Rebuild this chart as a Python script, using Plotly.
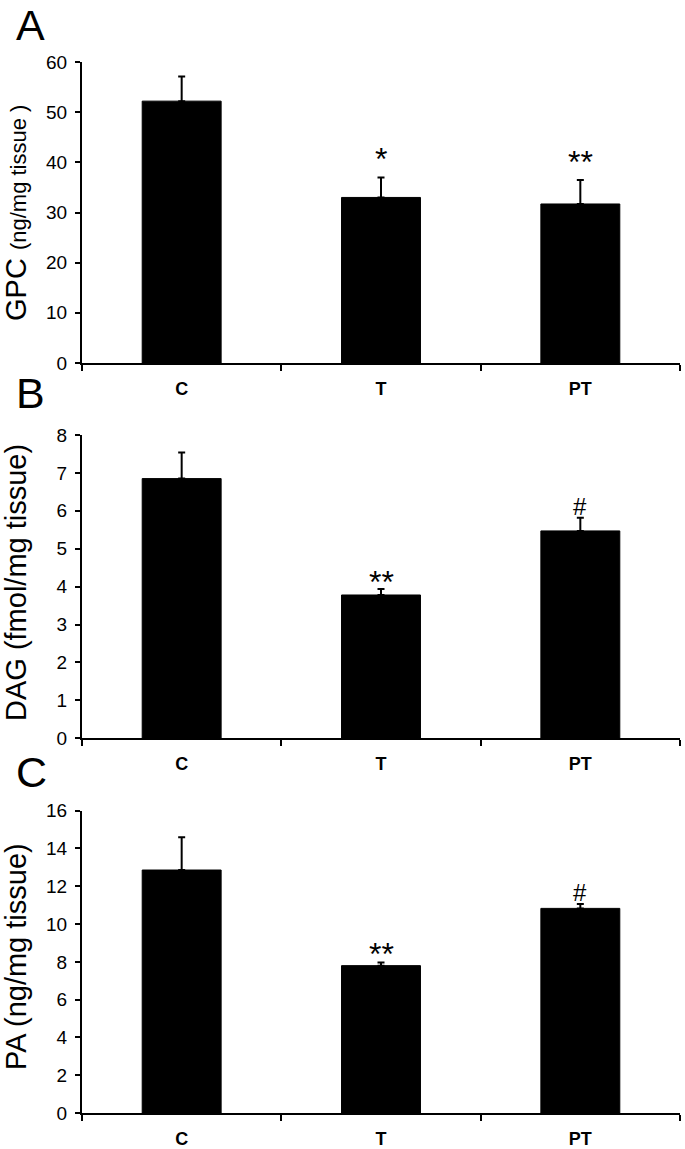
import plotly.graph_objects as go

# ---- data ----
categories = ["C", "T", "PT"]

gpc_mean = [52.2, 33.0, 31.7]
gpc_err = [4.9, 4.0, 4.8]
gpc_marks = ["", "*", "**"]

dag_mean = [6.85, 3.78, 5.47]
dag_err = [0.69, 0.16, 0.35]
dag_marks = ["", "**", "#"]

pa_mean = [12.86, 7.80, 10.83]
pa_err = [1.73, 0.17, 0.23]
pa_marks = ["", "**", "#"]

panel_letters = ["A", "B", "C"]
y_titles = [
    "GPC <span style='font-size:22px'>(ng/mg tissue )</span>",
    "DAG (fmol/mg tissue)",
    "PA (ng/mg tissue)",
]
y_ranges = [[0, 60], [0, 8], [0, 16]]
y_dticks = [10, 1, 2]

# ---- layout geometry (pixels) ----
W, H = 685, 1149
x_left, x_right = 82, 680
panels_px = [(62, 363), (435, 738.3), (810.7, 1113)]  # (top, bottom)
title_centers = [213, 583, 957]
letter_box_tops = [0, 368, 747]
mark_shift = [22, 11, 12]
FONT = "Liberation Sans, Arial, sans-serif"

fig = go.Figure()
series = [(gpc_mean, gpc_err, gpc_marks), (dag_mean, dag_err, dag_marks), (pa_mean, pa_err, pa_marks)]

annotations = []
for i, (means, errs, marks) in enumerate(series):
    suffix = "" if i == 0 else str(i + 1)
    fig.add_trace(go.Bar(
        x=categories, y=means,
        xaxis="x" + suffix, yaxis="y" + suffix,
        marker=dict(color="black", line=dict(color="black", width=1)),
        error_y=dict(type="data", array=errs, arrayminus=[0] * len(errs), symmetric=False,
                     color="black", thickness=2, width=3.5),
        showlegend=False,
    ))
    top, bottom = panels_px[i]
    dom = [1 - bottom / H, 1 - top / H]
    fig.update_layout(**{
        "xaxis" + suffix: dict(
            domain=[x_left / W, x_right / W], anchor="y" + suffix,
            showline=True, linecolor="black", linewidth=2,
            ticks="outside", tickson="boundaries", ticklen=6, tickwidth=2, tickcolor="black",
            tickfont=dict(family=FONT, size=18, color="black", weight="bold"),
            ticklabelstandoff=8, showgrid=False, zeroline=False, fixedrange=True,
            automargin=False,
        ),
        "yaxis" + suffix: dict(
            domain=dom, anchor="x" + suffix, range=y_ranges[i], dtick=y_dticks[i],
            showline=True, linecolor="black", linewidth=2,
            ticks="outside", ticklen=5, tickwidth=2, tickcolor="black",
            tickfont=dict(family=FONT, size=19, color="black"),
            ticklabelstandoff=4, showgrid=False, zeroline=False, fixedrange=True,
            automargin=False,
        ),
    })
    # significance marks above error bars
    for c, m, e, mk in zip(categories, means, errs, marks):
        if mk:
            is_star = "*" in mk
            annotations.append(dict(
                x=c, y=m + e, xref="x" + suffix, yref="y" + suffix,
                text=mk, showarrow=False, yanchor="middle",
                yshift=mark_shift[i] - (4 if is_star else 0),
                font=dict(family=FONT, size=32 if is_star else 24, color="black"),
            ))
    # y-axis title
    annotations.append(dict(
        x=16 / W, y=1 - title_centers[i] / H, xref="paper", yref="paper",
        text=y_titles[i], textangle=-90, showarrow=False,
        xanchor="center", yanchor="middle",
        font=dict(family=FONT, size=29, color="black"),
    ))
    # panel letter
    annotations.append(dict(
        x=15 / W, y=1 - letter_box_tops[i] / H, xref="paper", yref="paper",
        text=panel_letters[i], showarrow=False, xanchor="left", yanchor="top",
        borderpad=0,
        font=dict(family=FONT, size=43, color="black"),
    ))

fig.update_layout(
    width=W, height=H,
    margin=dict(l=0, r=0, t=0, b=0, pad=0, autoexpand=False),
    paper_bgcolor="white", plot_bgcolor="white",
    bargap=0.604,
    annotations=annotations,
    font=dict(family=FONT, color="black"),
)

fig.write_html(
    "out.html",
    config={"displayModeBar": False},
    post_script="document.body.style.margin='0';document.body.style.overflow='hidden';",
)
